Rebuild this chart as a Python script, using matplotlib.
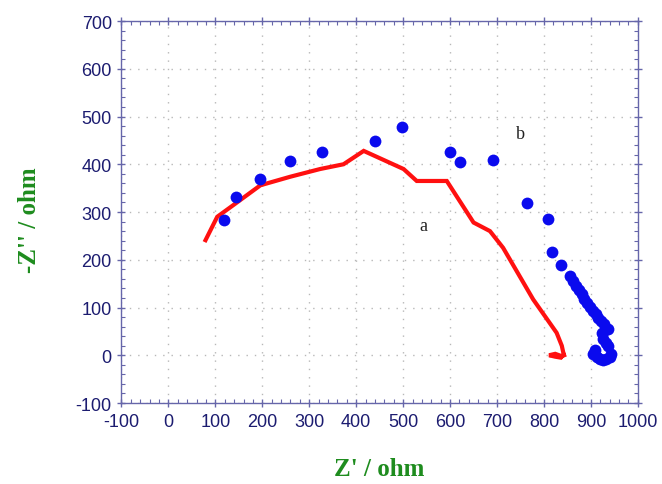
import numpy as np
import matplotlib
matplotlib.use("Agg")
import matplotlib.pyplot as plt
from matplotlib.ticker import MultipleLocator

# curve a (red line)
a_x = [79, 104, 146, 196, 260, 323, 373, 416, 501, 529, 593, 650, 685, 713,
       777, 827, 838, 842, 836, 824, 811, 824, 838, 843]
a_y = [241, 290, 320, 356, 374, 390, 400, 428, 390, 365, 365, 278, 260, 225,
       117, 47, 20, 2, -5, -3, 0, 3, -2, 0]

# curve b (blue dots)
b_x = [118, 144, 196, 260, 327, 440, 497, 600, 621, 692, 764, 809, 818, 836,
       855, 862, 869, 875, 880, 886, 892, 898, 904, 910, 916, 922, 928, 937,
       930, 923, 926, 932, 937, 942, 940, 933, 926, 919, 912, 905, 908]
b_y = [283, 331, 370, 407, 426, 449, 479, 426, 405, 409, 318, 285, 216, 190,
       166, 155, 145, 136, 128, 118, 109, 101, 93, 86, 79, 72, 65, 56,
       52, 46, 33, 26, 19, 2, -3, -8, -10, -8, -3, 2, 11]

x_ticks = list(range(-100, 1001, 100))
y_ticks = list(range(-100, 701, 100))

plt.rcParams["font.family"] = "Liberation Sans"
plt.rcParams["axes.unicode_minus"] = False

fig = plt.figure(figsize=(6.62, 4.85), dpi=100)
ax = fig.add_axes([0.1835, 0.167, 0.780, 0.7876])

ax.plot(a_x, a_y, color='#ff1010', linewidth=3.0, solid_joinstyle='miter', zorder=3)
ax.plot(b_x, b_y, linestyle='None', marker='o', markersize=8.5,
        color='#0a0aee', markeredgewidth=0, zorder=4)

ax.text(543, 271, 'a', fontsize=13, family='Liberation Serif', color='#222222',
        ha='center', va='center')
ax.text(749, 465, 'b', fontsize=13, family='Liberation Serif', color='#222222',
        ha='center', va='center')

ax.set_xlim(-100, 1000)
ax.set_ylim(-100, 700)
ax.set_xticks(x_ticks)
ax.set_yticks(y_ticks)
ax.xaxis.set_minor_locator(MultipleLocator(20))
ax.yaxis.set_minor_locator(MultipleLocator(20))

spine_col = '#6666aa'
for s in ax.spines.values():
    s.set_color(spine_col)
    s.set_linewidth(1.0)

ax.tick_params(which='major', direction='inout', length=6, width=1.0,
               color=spine_col, labelsize=13, labelcolor='#1c1c70',
               top=True, right=True, pad=4)
ax.tick_params(which='minor', direction='in', length=3, width=0.8,
               color=spine_col, top=True, right=True)

ax.grid(which='major', linestyle=(0, (1, 5)), color='#b8b8b8', linewidth=1.0)
ax.set_axisbelow(True)

fig.text(0.573, 0.031, "Z' / ohm", fontsize=18, fontweight='bold',
         family='Liberation Serif', color='#1e8c1e', ha='center', va='center')
fig.text(0.044, 0.545, "-Z'' / ohm", fontsize=18, fontweight='bold',
         family='Liberation Serif', color='#1e8c1e', ha='center', va='center',
         rotation=90)

plt.savefig('out.png', dpi=100)
